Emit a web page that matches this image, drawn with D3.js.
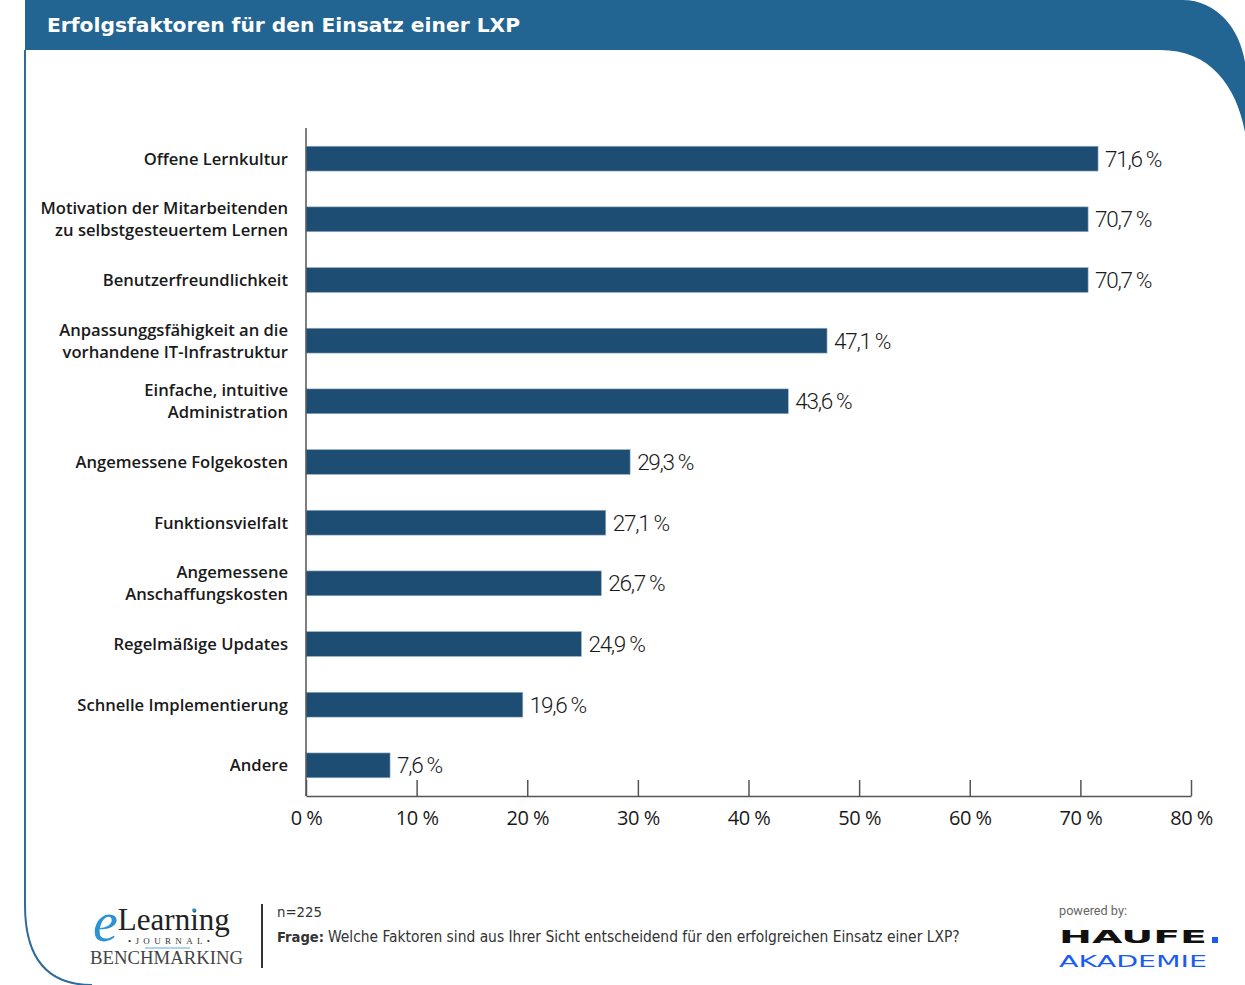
<!DOCTYPE html>
<html>
<head>
<meta charset="utf-8">
<script src="https://cdn.jsdelivr.net/npm/d3@7"></script>
<style>
  html, body { margin: 0; padding: 0; background: #fff; }
  svg { display: block; }
</style>
</head>
<body>
<svg id="chart" width="1245" height="985"></svg>
<script>
// Survey results: success factors for using an LXP
const categories = [
  "Offene Lernkultur",
  "Motivation der Mitarbeitenden\nzu selbstgesteuertem Lernen",
  "Benutzerfreundlichkeit",
  "Anpassunggsfähigkeit an die\nvorhandene IT-Infrastruktur",
  "Einfache, intuitive\nAdministration",
  "Angemessene Folgekosten",
  "Funktionsvielfalt",
  "Angemessene\nAnschaffungskosten",
  "Regelmäßige Updates",
  "Schnelle Implementierung",
  "Andere"
];
const values = [71.6, 70.7, 70.7, 47.1, 43.6, 29.3, 27.1, 26.7, 24.9, 19.6, 7.6];
const tickValues = [0, 10, 20, 30, 40, 50, 60, 70, 80];
const tickLabels = ["0 %", "10 %", "20 %", "30 %", "40 %", "50 %", "60 %", "70 %", "80 %"];

const title = "Erfolgsfaktoren für den Einsatz einer LXP";
const sampleNote = "n=225";
const questionLead = "Frage:";
const questionText = "Welche Faktoren sind aus Ihrer Sicht entscheidend für den erfolgreichen Einsatz einer LXP?";

const svg = d3.select("#chart");
const frameBlue = "#236592";
const barBlue = "#1e4d73";
const narrowFont = "'Liberation Sans Narrow', 'DejaVu Sans Condensed', Roboto, sans-serif";

// ---- frame: header band with curved right end, and left border line ----
svg.append("path")
  .attr("d", "M25,0 H1182 C1218,0 1240,30 1245,62 V132 C1236,85 1210,50 1160,50 H25 Z")
  .attr("fill", frameBlue);

svg.append("path")
  .attr("d", "M25,50 V905 C25,955 45,985 92,985")
  .attr("fill", "none")
  .attr("stroke", "#2f6c9b")
  .attr("stroke-width", 2);

svg.append("text")
  .attr("x", 47).attr("y", 32)
  .attr("fill", "#fff")
  .attr("font-family", "DejaVu Sans")
  .attr("font-weight", "bold")
  .attr("font-size", 20)
  .attr("textLength", 473)
  .attr("lengthAdjust", "spacingAndGlyphs")
  .text(title);

// ---- scales ----
const x = d3.scaleLinear().domain([0, 80]).range([306, 1191]);
const y = d3.scaleBand().domain(categories).range([128, 796])
  .paddingInner(0.59).paddingOuter(0.3);

// ---- bars ----
svg.append("g").selectAll("rect")
  .data(values)
  .join("rect")
  .attr("x", x(0))
  .attr("y", (d, i) => y(categories[i]))
  .attr("width", d => x(d) - x(0))
  .attr("height", y.bandwidth())
  .attr("fill", barBlue)
  .attr("stroke", "#9fb6cb")
  .attr("stroke-width", 0.6);

// value labels
svg.append("g").selectAll("text")
  .data(values)
  .join("text")
  .attr("x", d => x(d) + 7)
  .attr("y", (d, i) => y(categories[i]) + y.bandwidth() / 2 + 8)
  .attr("font-family", "Roboto")
  .attr("font-weight", 300)
  .attr("font-size", 22.5)
  .attr("letter-spacing", -1.3)
  .attr("fill", "#1a1a1a")
  .text(d => d.toFixed(1).replace(".", ",") + " %");

// category labels
const catG = svg.append("g");
categories.forEach(c => {
  const lines = c.split("\n");
  const cy = y(c) + y.bandwidth() / 2;
  const t = catG.append("text")
    .attr("text-anchor", "end")
    .attr("font-family", "Open Sans")
    .attr("font-weight", 600)
    .attr("font-size", 16.6)
    .attr("fill", "#1a1a1a");
  lines.forEach((ln, j) => {
    const off = lines.length === 1 ? 6 : (j === 0 ? -5 : 17);
    t.append("tspan").attr("x", 288).attr("y", cy + off).text(ln);
  });
});

// ---- axes ----
svg.append("line")
  .attr("x1", x(0)).attr("x2", x(0))
  .attr("y1", 128).attr("y2", 796)
  .attr("stroke", "#555").attr("stroke-width", 1.5);

const xAxis = d3.axisBottom(x)
  .tickValues(tickValues)
  .tickSizeInner(-16)
  .tickSizeOuter(0)
  .tickPadding(10)
  .tickFormat((d, i) => tickLabels[i]);

const ax = svg.append("g")
  .attr("transform", "translate(0,796)")
  .call(xAxis);
ax.select(".domain").attr("stroke", "#555").attr("stroke-width", 1.5);
ax.selectAll(".tick line").attr("stroke", "#555").attr("stroke-width", 1.5);
ax.selectAll(".tick text")
  .attr("y", 29).attr("dy", 0)
  .attr("font-family", "Open Sans")
  .attr("font-size", 20)
  .attr("letter-spacing", -0.5)
  .attr("fill", "#1a1a1a");

// ---- footer ----
// fit a text's font size so its natural width does not exceed maxW
function fitText(sel, baseSize, maxW) {
  sel.attr("font-size", baseSize);
  const w = sel.node().getComputedTextLength();
  if (w > maxW) sel.attr("font-size", baseSize * maxW / w);
  return sel.node().getComputedTextLength();
}

svg.append("line")
  .attr("x1", 262).attr("x2", 262).attr("y1", 904).attr("y2", 968)
  .attr("stroke", "#333").attr("stroke-width", 2);

const nText = svg.append("text")
  .attr("x", 277).attr("y", 917)
  .attr("font-family", narrowFont)
  .attr("fill", "#333")
  .text(sampleNote);
fitText(nText, 18.5, 45);

const lead = svg.append("text")
  .attr("x", 277).attr("y", 942)
  .attr("font-family", narrowFont)
  .attr("font-weight", "bold")
  .attr("fill", "#333")
  .text(questionLead);
const leadW = fitText(lead, 18.5, 47);

svg.append("text")
  .attr("x", 277 + leadW + 4).attr("y", 942)
  .attr("font-family", narrowFont)
  .attr("fill", "#333")
  .text(questionText)
  .call(s => fitText(s, 18.5, 960 - (277 + leadW + 4)));

// eLearning Journal Benchmarking logo
const logo = svg.append("g");
const word = logo.append("text")
  .attr("x", 93).attr("y", 930)
  .attr("font-family", "Liberation Serif");
word.append("tspan")
  .attr("dy", 11)
  .attr("font-style", "italic")
  .attr("font-size", 56)
  .attr("fill", "#2b93d1")
  .text("e");
word.append("tspan")
  .attr("dy", -11)
  .attr("font-size", 31)
  .attr("fill", "#222")
  .text("Learning");
logo.append("circle").attr("cx", 194).attr("cy", 910).attr("r", 1.8).attr("fill", "#2b93d1");
logo.append("text")
  .attr("x", 128).attr("y", 944)
  .attr("font-family", "Liberation Serif")
  .attr("font-size", 9)
  .attr("fill", "#333")
  .attr("textLength", 82)
  .attr("lengthAdjust", "spacing")
  .text("•JOURNAL•");
logo.append("line")
  .attr("x1", 145).attr("x2", 190).attr("y1", 948).attr("y2", 948)
  .attr("stroke", "#5aa9dc").attr("stroke-width", 1.2);
logo.append("text")
  .attr("x", 90).attr("y", 964)
  .attr("font-family", "Liberation Serif")
  .attr("font-size", 19)
  .attr("fill", "#444")
  .attr("textLength", 153)
  .attr("lengthAdjust", "spacingAndGlyphs")
  .text("BENCHMARKING");

// Haufe Akademie logo
const hl = svg.append("g");
hl.append("text")
  .attr("x", 1059).attr("y", 915)
  .attr("font-family", "Roboto")
  .attr("font-size", 13)
  .attr("fill", "#666")
  .attr("textLength", 68)
  .attr("lengthAdjust", "spacingAndGlyphs")
  .text("powered by:");
hl.append("text")
  .attr("x", 1059).attr("y", 943)
  .attr("font-family", "DejaVu Sans")
  .attr("font-weight", "bold")
  .attr("font-size", 18.5)
  .attr("fill", "#111")
  .attr("textLength", 148)
  .attr("lengthAdjust", "spacingAndGlyphs")
  .text("HAUFE");
hl.append("rect").attr("x", 1212).attr("y", 937).attr("width", 6).attr("height", 6).attr("fill", "#1a5cf2");
hl.append("text")
  .attr("x", 1059).attr("y", 967)
  .attr("font-family", "DejaVu Sans")
  .attr("font-size", 15)
  .attr("fill", "#1a5cf2")
  .attr("textLength", 148)
  .attr("lengthAdjust", "spacingAndGlyphs")
  .text("AKADEMIE");
</script>
</body>
</html>
